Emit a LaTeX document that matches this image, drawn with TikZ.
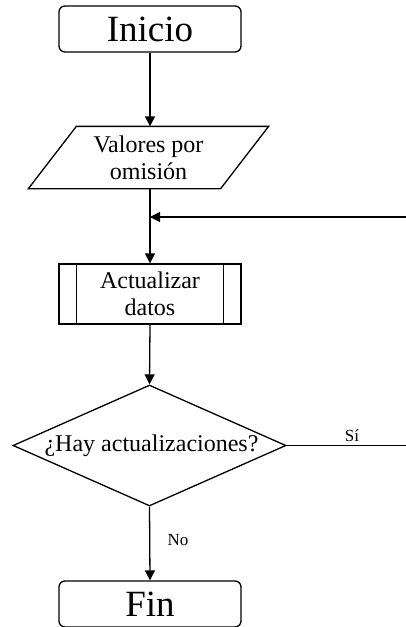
\documentclass[tikz,border=0pt]{standalone}
\usepackage{fontspec}
\setmainfont{Liberation Serif}
\usetikzlibrary{shapes.geometric,arrows.meta}
\begin{document}
\begin{tikzpicture}[x=1pt,y=-1pt, line width=1.3pt,
  arr/.style={-{Triangle[length=10pt,width=10pt]}},
  big/.style={font=\fontsize{37}{37}\selectfont},
  mid/.style={font=\fontsize{24}{27}\selectfont, align=center},
  sml/.style={font=\fontsize{17}{17}\selectfont},
  term/.style={draw, rounded corners=6pt, minimum width=182pt, minimum height=46pt, inner sep=0pt},
  subbox/.style={draw, minimum width=182pt, minimum height=60pt, inner sep=0pt},
]
\useasboundingbox (0,0) rectangle (406,627);

\node[term,big] (ini) at (150,29) {Inicio};

\node[mid, minimum width=191pt, minimum height=61pt, inner sep=0pt] (val) at (148.5,157.5) {Valores por\\omisión};
\draw ([xshift=24pt]val.north west) -- ([xshift=24pt]val.north east)
   -- ([xshift=-24pt]val.south east) -- ([xshift=-24pt]val.south west) -- cycle;

\node[subbox,mid] (sub) at (150,294) {Actualizar\\datos};
\draw ([xshift=18pt]sub.north west) -- ([xshift=18pt]sub.south west);
\draw ([xshift=-18pt]sub.north east) -- ([xshift=-18pt]sub.south east);

\node[draw, diamond, minimum width=273pt, minimum height=121pt, inner sep=0pt] (dec) at (149.5,445.5) {};
\node[mid] (dect) at ([xshift=2pt]dec.center) {¿Hay actualizaciones?};

\node[term,big] (fin) at (150,604) {Fin};

\coordinate (jr) at (406,217);
\coordinate (jn) at (150,217);
\coordinate (sr) at (406,445.5);

\draw[arr] (ini.south) -- (ini.south |- val.north);
\draw[arr] (ini.south |- val.south) -- (sub.north);
\draw[arr] (jr) -- (jn);
\draw[arr] (sub.south) -- (dec.north);
\draw (dec.east) -- (sr);
\draw[arr] (dec.south) -- (fin.north);

\node[sml] (si) at (352,436) {Sí};
\node[sml] (no) at (178,540) {No};
\end{tikzpicture}
\end{document}
